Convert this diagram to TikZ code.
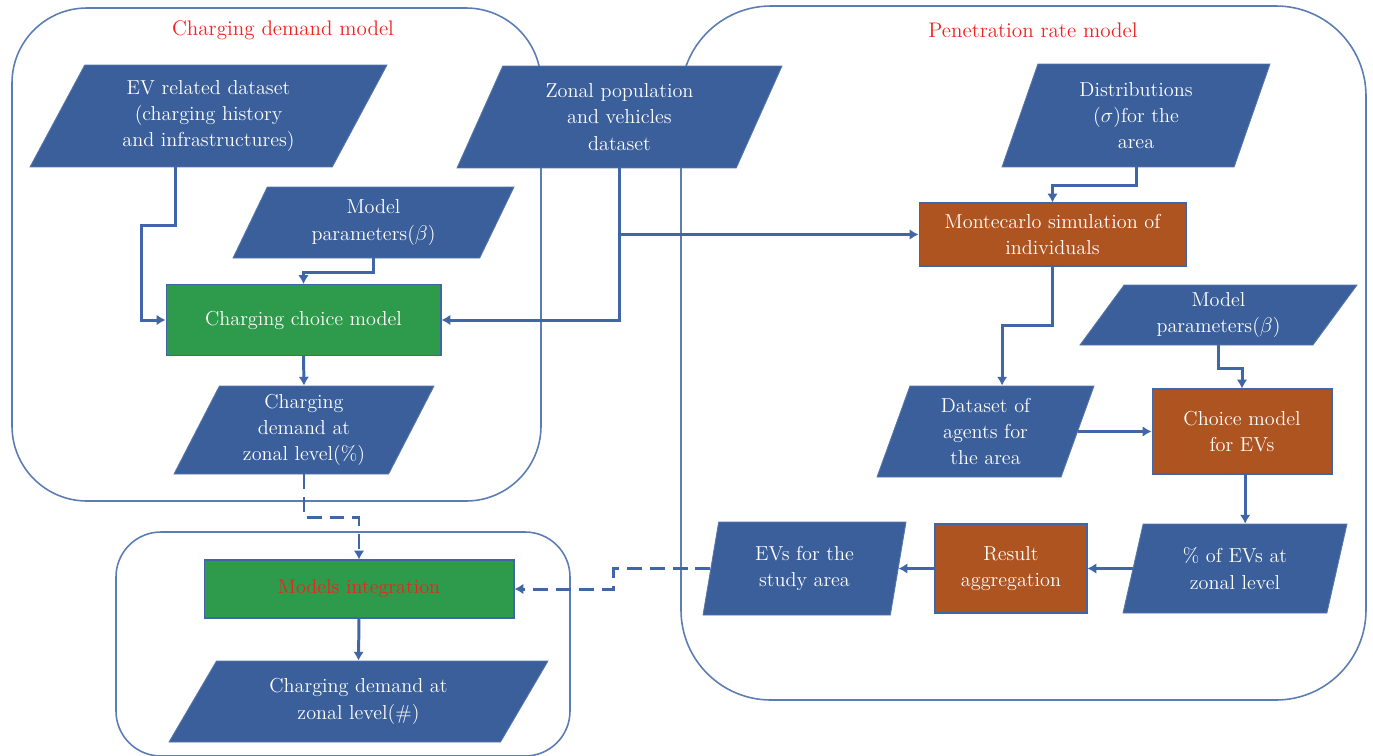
\documentclass[tikz,border=0pt]{standalone}
\usetikzlibrary{shapes.geometric}
\usetikzlibrary{arrows.meta}
\usetikzlibrary{calc}

\definecolor{databl}{HTML}{3A5F9B}
\definecolor{linebl}{HTML}{4066A8}
\definecolor{framebl}{HTML}{5B7DB3}
\definecolor{procgr}{HTML}{2E9B4C}
\definecolor{procor}{HTML}{AD5421}
\definecolor{titred}{HTML}{F0221C}

\tikzset{
  txt/.style={font=\fontsize{11.5}{15}\selectfont, align=center},
  data/.style 2 args={trapezium, trapezium left angle=#1, trapezium right angle=#2,
    trapezium stretches body, fill=databl, draw=databl!85!white, line width=0.5pt,
    text=white, inner sep=1pt, txt},
  proc/.style={rectangle, draw=linebl, line width=0.6pt, text=white, inner sep=1pt, txt},
  conn/.style={draw=linebl, line width=1.7pt, -{Latex[length=5pt,width=6pt]}},
  dconn/.style={conn, dash pattern=on 8.5pt off 4.5pt},
  frame/.style={draw=framebl, line width=0.9pt},
  boxtitle/.style={text=titred, font=\fontsize{12}{15}\selectfont}
}

\begin{document}
\begin{tikzpicture}[x=0.02cm, y=-0.02cm]
\useasboundingbox (0,0) rectangle (1373,755);

% the three model frames
\draw[frame, rounded corners=1.5cm] (12,8) rectangle (541,501);
\draw[frame, rounded corners=1.8cm] (681,6) rectangle (1366,700);
\draw[frame, rounded corners=0.9cm] (116,532) rectangle (570,756);
\node[boxtitle] (cdtitle) at (283,30) {Charging demand model};
\node[boxtitle] (prtitle) at (1033,30) {Penetration rate model};

% charging demand model
\node[data={54}{126}, minimum width=7.14cm, minimum height=2.04cm] (evdata) at (208.5,116)
  {EV related dataset\\(charging history\\and infrastructures)};
\node[data={55}{125}, minimum width=5.62cm, minimum height=1.42cm] (paramsL) at (373.5,222.5)
  {Model\\parameters($\beta$)};
\node[data={57}{123}, minimum width=6.5cm, minimum height=2.04cm] (zonal) at (619.5,117)
  {Zonal population\\and vehicles\\dataset};
\node[proc, fill=procgr, minimum width=5.5cm, minimum height=1.42cm] (choice) at (303.5,320)
  {Charging choice model};
\node[data={59}{121}, minimum width=5.2cm, minimum height=1.76cm] (chgpct) at (304,430)
  {Charging\\demand at\\zonal level(\%)};

% integration
\node[proc, fill=procgr, text=titred, minimum width=6.2cm, minimum height=1.16cm] (integ) at (359,589)
  {Models integration};
\node[data={46}{134}, minimum width=7.58cm, minimum height=1.62cm] (chgnum) at (358.5,701.5)
  {Charging demand at\\zonal level(\#)};

% penetration rate model
\node[data={63}{117}, minimum width=5.36cm, minimum height=2.06cm] (dist) at (1136,115.5)
  {Distributions\\($\sigma$)for the\\area};
\node[proc, fill=procor, minimum width=5.34cm, minimum height=1.26cm] (monte) at (1052.5,234.5)
  {Montecarlo simulation of\\individuals};
\node[data={48}{132}, minimum width=5.54cm, minimum height=1.2cm] (paramsR) at (1218.5,315)
  {Model\\parameters($\beta$)};
\node[data={65}{115}, minimum width=4.34cm, minimum height=1.82cm] (agents) at (985.5,431.5)
  {Dataset of\\agents for\\the area};
\node[proc, fill=procor, minimum width=3.6cm, minimum height=1.7cm] (choiceEV) at (1242,431.5)
  {Choice model\\for EVs};
\node[data={66}{114}, minimum width=4.48cm, minimum height=1.78cm] (pctEV) at (1235,568.5)
  {\% of EVs at\\zonal level};
\node[proc, fill=procor, minimum width=3.04cm, minimum height=1.78cm] (result) at (1011,568.5)
  {Result\\aggregation};
\node[data={72}{108}, minimum width=4.06cm, minimum height=1.86cm] (evsarea) at (804.5,568.5)
  {EVs for the\\study area};

% connectors
\draw[conn] ([xshift=-0.66cm]evdata.center |- evdata.bottom side) -- ++(0,58) -- ++(-34,0) |- (choice.west);
\draw[conn] (paramsL.center |- paramsL.bottom side) -- ++(0,14) -| (choice.north);
\draw[conn] (zonal.center |- zonal.bottom side) |- (choice.east);
\draw[conn] (zonal.center |- monte.west) -- (monte.west);
\draw[conn] (choice.south) -- (chgpct.center |- chgpct.top side);
\draw[dconn] (chgpct.center |- chgpct.bottom side) -- ++(0,43) -| (integ.north);
\draw[conn] (integ.south) -- (chgnum.center |- chgnum.top side);
\draw[conn] (dist.center |- dist.bottom side) -- ++(0,18) -| (monte.north);
\draw[conn] (monte.south) -- ++(0,59) -| (agents.top side);
\draw[conn] (paramsR.center |- paramsR.bottom side) -- ++(0,23) -| (choiceEV.north);
\draw[conn] (agents.right side) -- (choiceEV.west);
\draw[conn] (pctEV.top side |- choiceEV.south) -- (pctEV.top side);
\draw[conn] (pctEV.left side) -- (result.east);
\draw[conn] (result.west) -- (evsarea.right side);
\draw[dconn] (evsarea.left side) -- ++(-97,0) |- (integ.east);
\end{tikzpicture}
\end{document}
